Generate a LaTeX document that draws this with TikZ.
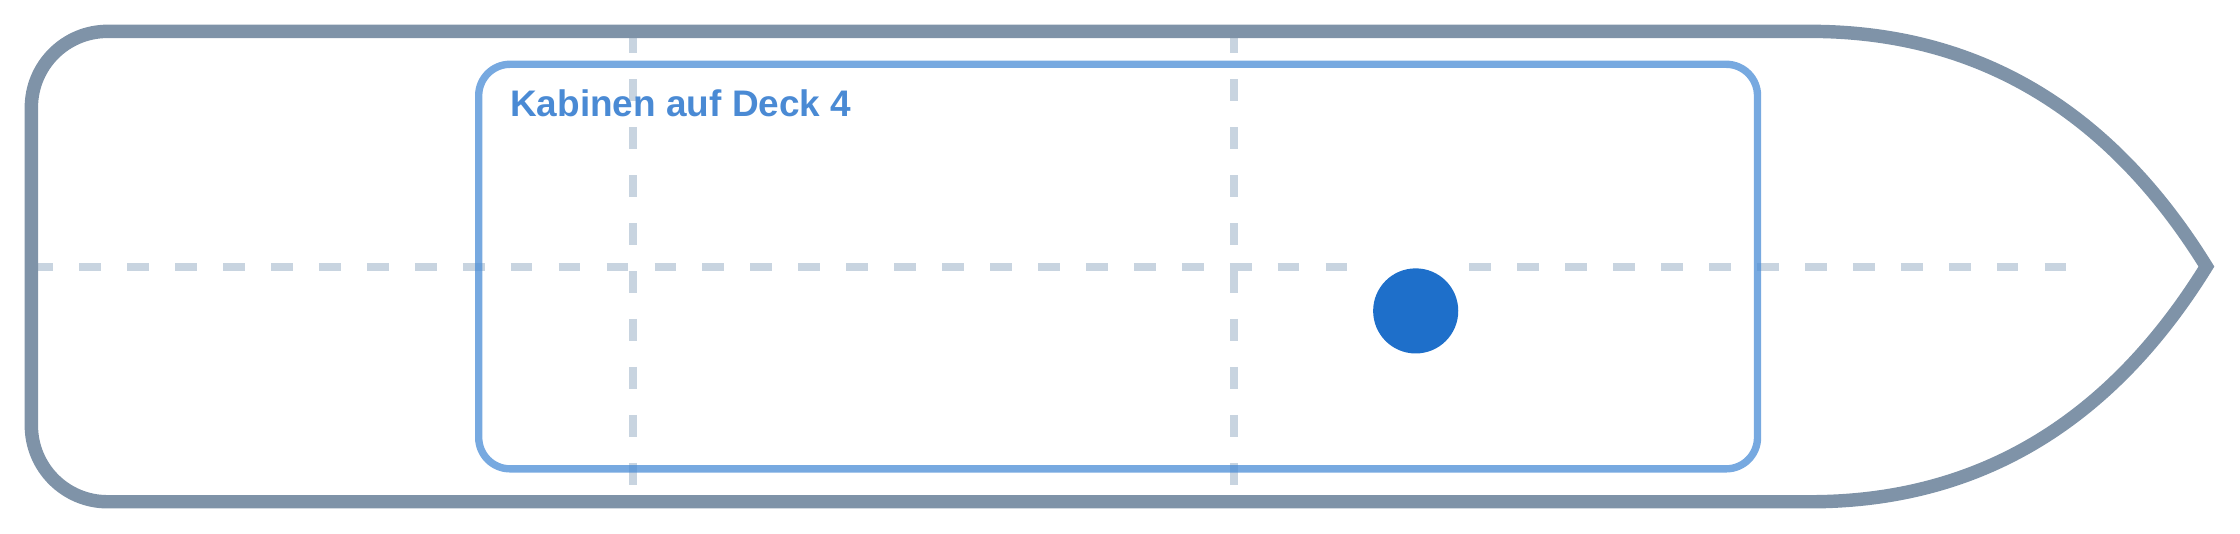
\documentclass[tikz,border=0pt]{standalone}
\usepackage{fontspec}
\setmainfont{Liberation Sans}
\definecolor{hullc}{RGB}{127,147,168}
\definecolor{dashc}{RGB}{200,212,224}
\definecolor{deckc}{RGB}{74,140,214}
\definecolor{titlec}{RGB}{74,138,212}
\definecolor{dotc}{RGB}{30,111,202}
\begin{document}
\begin{tikzpicture}[x=1pt,y=-1pt,
  hull/.style={draw=hullc,line width=6pt,line join=miter},
  guide/.style={draw=dashc,line width=3.6pt,dash pattern=on 9.7pt off 11.7pt},
  deck/.style={draw=deckc,draw opacity=0.75,line width=3.3pt,rounded corners=14pt,inner sep=0pt,outer sep=0pt},
  title/.style={text=titlec,font=\bfseries\fontsize{16.5}{20}\selectfont,inner sep=0pt,anchor=base west},
  halo/.style={circle,fill=white,inner sep=0pt,minimum size=58.6pt},
  dot/.style={circle,fill=dotc,inner sep=0pt,minimum size=38pt}]
\useasboundingbox (0,0) rectangle (1000,238);
% guide lines
\draw[guide] (14,119) -- (930,119);
\draw[guide] (282.6,14) -- (282.6,224);
\draw[guide] (550.8,14) -- (550.8,224);
% cabin area
\node[deck, minimum width=570.9pt, minimum height=180.6pt] (cabins) at (499.15,119) {};
% hull
\draw[hull] (808,14) -- (48,14) .. controls (29.2,14) and (14,29.2) .. (14,48)
  -- (14,190) .. controls (14,208.8) and (29.2,224) .. (48,224)
  -- (808,224) .. controls (882.7,224) and (941.7,189) .. (985,119)
  .. controls (941.7,49) and (882.7,14) .. (808,14) -- cycle;
% marker
\node[halo] (halo) at (632,138.8) {};
\node[dot] (pos) at (halo.center) {};
% title
\node[title] (label) at (227.6,52) {Kabinen auf Deck 4};
\end{tikzpicture}
\end{document}
